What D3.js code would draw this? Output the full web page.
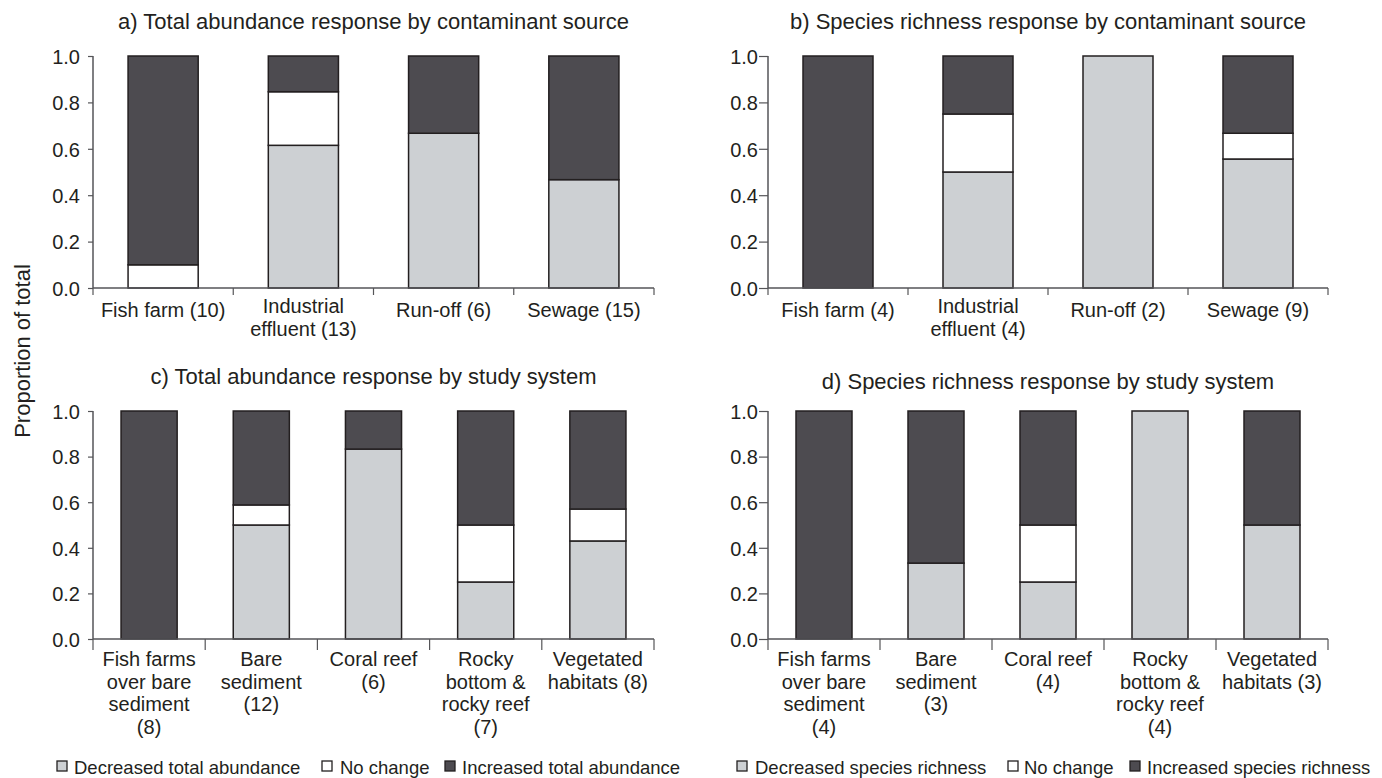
<!DOCTYPE html>
<html><head><meta charset="utf-8">
<script src="https://cdn.jsdelivr.net/npm/d3@7"></script>
<style>
body{margin:0;background:#fff}
svg{display:block}
text{font-family:"Liberation Sans",Arial,Helvetica,sans-serif;fill:#231f20}
</style>
</head><body>
<svg id="chart" width="1382" height="778"></svg>
<script>
// ---- data ----
const yTickValues = [0, 0.2, 0.4, 0.6, 0.8, 1.0];
const seriesNames = ["Decreased", "No change", "Increased"];

const catsA = [["Fish farm (10)"], ["Industrial", "effluent (13)"], ["Run-off (6)"], ["Sewage (15)"]];
const decA = [0, 0.615, 0.667, 0.467];
const noA  = [0.1, 0.231, 0, 0];
const incA = [0.9, 0.154, 0.333, 0.533];

const catsB = [["Fish farm (4)"], ["Industrial", "effluent (4)"], ["Run-off (2)"], ["Sewage (9)"]];
const decB = [0, 0.5, 1.0, 0.556];
const noB  = [0, 0.25, 0, 0.111];
const incB = [1.0, 0.25, 0, 0.333];

const catsC = [["Fish farms", "over bare", "sediment", "(8)"], ["Bare", "sediment", "(12)"], ["Coral reef", "(6)"], ["Rocky", "bottom &", "rocky reef", "(7)"], ["Vegetated", "habitats (8)"]];
const decC = [0, 0.5, 0.833, 0.25, 0.43];
const noC  = [0, 0.088, 0, 0.25, 0.14];
const incC = [1.0, 0.412, 0.167, 0.5, 0.43];

const catsD = [["Fish farms", "over bare", "sediment", "(4)"], ["Bare", "sediment", "(3)"], ["Coral reef", "(4)"], ["Rocky", "bottom &", "rocky reef", "(4)"], ["Vegetated", "habitats (3)"]];
const decD = [0, 0.333, 0.25, 1.0, 0.5];
const noD  = [0, 0, 0.25, 0, 0];
const incD = [1.0, 0.667, 0.5, 0, 0.5];

const titles = [
  "a) Total abundance response by contaminant source",
  "b) Species richness response by contaminant source",
  "c) Total abundance response by study system",
  "d) Species richness response by study system"
];
const legendLeft  = ["Decreased total abundance", "No change", "Increased total abundance"];
const legendRight = ["Decreased species richness", "No change", "Increased species richness"];
const yAxisLabel = "Proportion of total";

// ---- style ----
const fills = ["#cdd0d3", "#ffffff", "#4d4b50"];
const ink = "#231f20";
const axisCol = "#555558";

const svg = d3.select("#chart");

const panels = [
  {title: titles[0], cats: catsA, s: [decA, noA, incA], x0: 93, x1: 654, yT: 56, yB: 288, titleY: 29, labY1: 317, labYm: 313, tick: 5, pad: 8, xt: 7},
  {title: titles[1], cats: catsB, s: [decB, noB, incB], x0: 768, x1: 1328, yT: 56, yB: 288, titleY: 29, labY1: 317, labYm: 313, tick: 9, pad: 1, xt: 7},
  {title: titles[2], cats: catsC, s: [decC, noC, incC], x0: 93, x1: 654, yT: 411, yB: 639, titleY: 384, labY1: 666, labYm: 666, tick: 5, pad: 8, xt: 11},
  {title: titles[3], cats: catsD, s: [decD, noD, incD], x0: 768, x1: 1328, yT: 411, yB: 639, titleY: 389, labY1: 666, labYm: 666, tick: 9, pad: 1, xt: 11}
];

panels.forEach(p => {
  const g = svg.append("g");
  const n = p.cats.length;
  const x = d3.scaleBand().domain(d3.range(n)).range([p.x0, p.x1]).paddingInner(0).paddingOuter(0);
  const y = d3.scaleLinear().domain([0, 1]).range([p.yB, p.yT]);
  const bw = x.bandwidth() * 0.5;

  // title
  g.append("text").attr("x", (p.x0 + p.x1) / 2).attr("y", p.titleY)
    .attr("text-anchor", "middle").attr("font-size", 22).text(p.title);

  // bars
  d3.range(n).forEach(i => {
    let base = 0;
    p.s.forEach((arr, k) => {
      const v = arr[i];
      if (v > 0) {
        g.append("rect")
          .attr("x", x(i) + (x.bandwidth() - bw) / 2)
          .attr("width", bw)
          .attr("y", y(base + v))
          .attr("height", y(base) - y(base + v))
          .attr("fill", fills[k]).attr("stroke", ink).attr("stroke-width", 1.5);
      }
      base += v;
    });
  });

  // y axis
  const ya = d3.axisLeft(y).tickValues(yTickValues).tickFormat(d3.format(".1f"))
    .tickSize(p.tick).tickPadding(p.pad);
  const yg = g.append("g").attr("transform", `translate(${p.x0},0)`).call(ya);
  yg.select(".domain").attr("stroke", axisCol).attr("stroke-width", 1.5).attr("d", `M0,${p.yT}V${p.yB}`);
  yg.selectAll(".tick line").attr("stroke", axisCol).attr("stroke-width", 1.2);
  yg.selectAll(".tick text").attr("font-size", 20).attr("fill", ink).attr("dy", "0.36em")
    .style("font-family", '"Liberation Sans",Arial,sans-serif');

  // x axis line and separator ticks
  g.append("line").attr("x1", p.x0).attr("x2", p.x1).attr("y1", p.yB).attr("y2", p.yB)
    .attr("stroke", axisCol).attr("stroke-width", 1.5);
  const bounds = d3.range(n + 1).map(i => i < n ? x(i) : p.x1);
  g.selectAll(".sep").data(bounds).join("line")
    .attr("x1", d => d).attr("x2", d => d)
    .attr("y1", p.yB).attr("y2", p.yB + p.xt)
    .attr("stroke", axisCol).attr("stroke-width", 1.2);

  // category labels
  p.cats.forEach((lines, i) => {
    const t = g.append("text").attr("text-anchor", "middle").attr("font-size", 20)
      .attr("x", x(i) + x.bandwidth() / 2)
      .attr("y", lines.length > 1 ? p.labYm : p.labY1);
    lines.forEach((ln, j) => {
      t.append("tspan").attr("x", x(i) + x.bandwidth() / 2)
        .attr("dy", j === 0 ? 0 : 22.5).text(ln);
    });
  });
});

// y-axis label
svg.append("text").attr("transform", "translate(30,351) rotate(-90)")
  .attr("text-anchor", "middle").attr("font-size", 22).text(yAxisLabel);

// legends
function legend(names, sqX, txX) {
  names.forEach((nm, k) => {
    svg.append("rect").attr("x", sqX[k]).attr("y", 761).attr("width", 10).attr("height", 10)
      .attr("fill", fills[k]).attr("stroke", ink).attr("stroke-width", 1.3);
    svg.append("text").attr("x", txX[k]).attr("y", 774).attr("font-size", 18.5).text(nm);
  });
}
legend(legendLeft, [57, 322, 445], [74, 340, 462]);
legend(legendRight, [737, 1008, 1130], [755, 1024, 1147]);
</script>
</body></html>
